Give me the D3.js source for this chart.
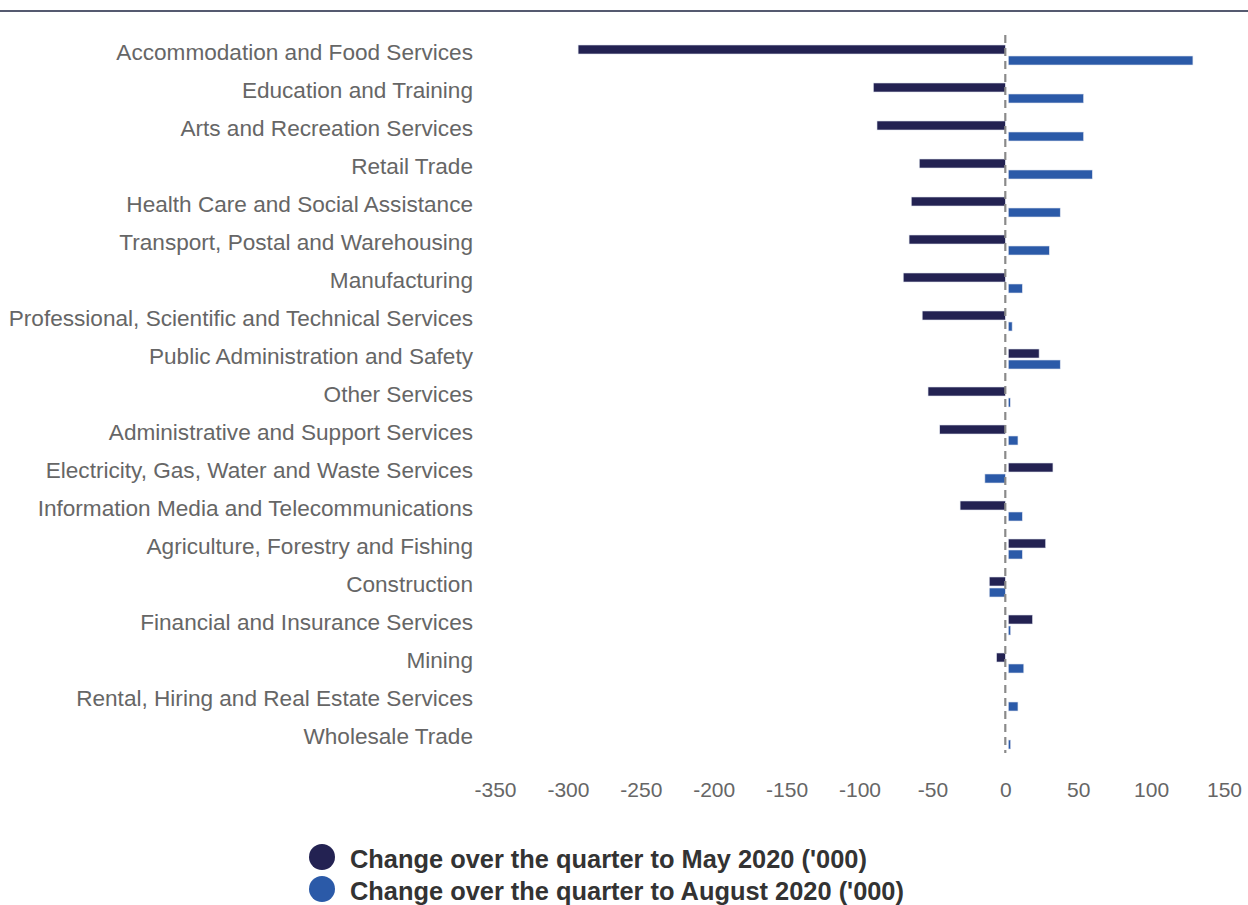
<!DOCTYPE html>
<html>
<head>
<meta charset="utf-8">
<script src="https://cdn.jsdelivr.net/npm/d3@7"></script>
<style>
  body { margin: 0; background: #fff; }
  #chart text { font-family: "Liberation Sans", Arial, sans-serif; }
</style>
</head>
<body>
<div id="chart"></div>
<script>
const industries = [
  'Accommodation and Food Services',
  'Education and Training',
  'Arts and Recreation Services',
  'Retail Trade',
  'Health Care and Social Assistance',
  'Transport, Postal and Warehousing',
  'Manufacturing',
  'Professional, Scientific and Technical Services',
  'Public Administration and Safety',
  'Other Services',
  'Administrative and Support Services',
  'Electricity, Gas, Water and Waste Services',
  'Information Media and Telecommunications',
  'Agriculture, Forestry and Fishing',
  'Construction',
  'Financial and Insurance Services',
  'Mining',
  'Rental, Hiring and Real Estate Services',
  'Wholesale Trade'
];
const changeMay = [-293, -90.5, -88, -59, -64.5, -66, -70, -57, 22.5, -53, -45, 32, -31, 27, -11, 18, -6, 0, 0];
const changeAug = [128, 53, 53, 59, 37, 29.5, 11, 4, 37, 2, 8, -14, 11, 11, -11, 3, 12, 8, 3];
const xTicks = [-350, -300, -250, -200, -150, -100, -50, 0, 50, 100, 150];
const seriesNames = [
  "Change over the quarter to May 2020 ('000)",
  "Change over the quarter to August 2020 ('000)"
];
const colors = ['#232252', '#2b5aa8'];

const width = 1248, height = 905;
const svg = d3.select('#chart').append('svg')
  .attr('width', width).attr('height', height);

// top rule
svg.append('line')
  .attr('x1', 0).attr('x2', width).attr('y1', 11).attr('y2', 11)
  .attr('stroke', '#555a70').attr('stroke-width', 2);

const x = d3.scaleLinear().domain([-350, 150]).range([495, 1224]);
const y = d3.scaleBand().domain(industries).range([33, 755]);
const barH = 9;

const rows = industries.map(function(d, i) {
  return { name: d, v: [changeMay[i], changeAug[i]] };
});

// category labels
svg.append('g').selectAll('text')
  .data(industries).enter().append('text')
  .attr('x', 473)
  .attr('y', function(d) { return y(d) + y.bandwidth() / 2; })
  .attr('dy', '0.35em')
  .attr('text-anchor', 'end')
  .attr('font-size', 22.6)
  .attr('fill', '#666')
  .text(function(d) { return d; });

// bars (positive ones start just right of the zero line)
const barG = svg.append('g');
[0, 1].forEach(function(s) {
  barG.append('g').selectAll('rect')
    .data(rows.filter(function(r) { return r.v[s] !== 0; }))
    .enter().append('rect')
    .attr('x', function(d) { return d.v[s] < 0 ? x(d.v[s]) : x(0) + 3; })
    .attr('width', function(d) {
      const w = Math.abs(x(d.v[s]) - x(0));
      return d.v[s] < 0 ? w : Math.max(w - 2, 2);
    })
    .attr('y', function(d) {
      const c = y(d.name) + y.bandwidth() / 2;
      return s === 0 ? c - 2.5 - barH / 2 : c + 8.5 - barH / 2;
    })
    .attr('height', barH)
    .attr('fill', colors[s])
    .attr('stroke', '#dfe3ee')
    .attr('stroke-width', 0.6);
});

// zero line
svg.append('line')
  .attr('x1', x(0)).attr('x2', x(0))
  .attr('y1', 35).attr('y2', 753)
  .attr('stroke', '#8a8a8a').attr('stroke-width', 2.2)
  .attr('stroke-dasharray', '8,5');

// x axis labels
const xAxis = d3.axisBottom(x).tickValues(xTicks).tickSize(0).tickPadding(0)
  .tickFormat(function(d) { return String(d); });
const ax = svg.append('g').attr('transform', 'translate(0,782)').call(xAxis);
ax.select('.domain').remove();
ax.selectAll('text')
  .attr('font-size', 21)
  .attr('fill', '#666')
  .attr('dy', '0.71em');

// legend
const leg = svg.append('g').selectAll('g')
  .data(seriesNames).enter().append('g')
  .attr('transform', function(d, i) { return 'translate(322,' + (857 + i * 32) + ')'; });
leg.append('circle').attr('r', 13)
  .attr('fill', function(d, i) { return colors[i]; });
leg.append('text')
  .attr('x', 28).attr('y', 2).attr('dy', '0.36em')
  .attr('font-size', 25.4).attr('font-weight', 'bold')
  .attr('fill', '#333')
  .text(function(d) { return d; });
</script>
</body>
</html>
